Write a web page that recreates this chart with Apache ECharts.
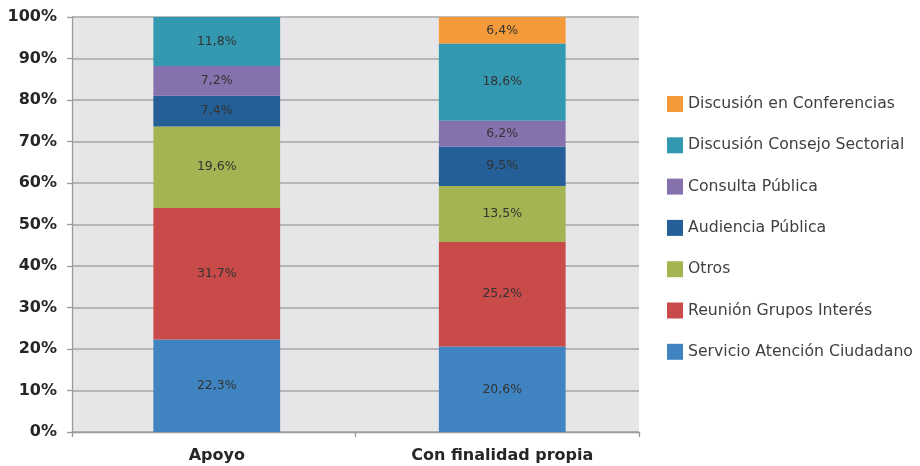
<!DOCTYPE html>
<html>
<head>
<meta charset="utf-8">
<script src="https://cdn.jsdelivr.net/npm/echarts@6/dist/echarts.min.js"></script>
<style>
  html, body { margin: 0; padding: 0; background: #ffffff; }
  #chart { width: 920px; height: 466px; }
</style>
</head>
<body>
<div id="chart"></div>
<script>
// Categories on the x axis
const categories = ['Apoyo', 'Con finalidad propia'];

// Share (%) of each participation mechanism, stacked bottom to top
const servicioAtencion = [22.3, 20.6];
const reunionGrupos = [31.7, 25.2];
const otros = [19.6, 13.5];
const audienciaPublica = [7.4, 9.5];
const consultaPublica = [7.2, 6.2];
const consejoSectorial = [11.8, 18.6];
const conferencias = [null, 6.4];

const yTicks = [0, 10, 20, 30, 40, 50, 60, 70, 80, 90, 100];

const seriesDefs = [
  { name: 'Servicio Atención Ciudadano', data: servicioAtencion, color: '#3f84c0' },
  { name: 'Reunión Grupos Interés', data: reunionGrupos, color: '#c84b4a' },
  { name: 'Otros', data: otros, color: '#a3b552' },
  { name: 'Audiencia Pública', data: audienciaPublica, color: '#245f97' },
  { name: 'Consulta Pública', data: consultaPublica, color: '#8572ad' },
  { name: 'Discusión Consejo Sectorial', data: consejoSectorial, color: '#3399b0' },
  { name: 'Discusión en Conferencias', data: conferencias, color: '#f49a3a' }
];

const fmt = v => v.toFixed(1).replace('.', ',') + '%';
const axisGrey = '#9a9a9a';

const chart = echarts.init(document.getElementById('chart'), null, { renderer: 'canvas' });

chart.setOption({
  animation: false,
  backgroundColor: '#ffffff',
  textStyle: { fontFamily: 'DejaVu Sans' },
  grid: [
    // frame: grey plot area, gridlines and axes
    { left: 72, right: 281, top: 17, bottom: 34, show: true, backgroundColor: '#e6e6e8', borderWidth: 0 },
    // bars and category labels
    { left: 74, right: 275, top: 17, bottom: 34 }
  ],
  legend: {
    orient: 'vertical',
    left: 667,
    top: 96,
    padding: 0,
    itemWidth: 16,
    itemHeight: 16,
    itemGap: 25.3,
    icon: 'rect',
    data: seriesDefs.map(s => s.name).reverse(),
    textStyle: { fontSize: 15.7, color: '#404040', fontFamily: 'DejaVu Sans', padding: [0, 0, 0, 0] }
  },
  xAxis: [
    {
      gridIndex: 0,
      type: 'category',
      data: categories,
      axisLine: { show: true, lineStyle: { color: axisGrey, width: 1.3 } },
      axisTick: { show: true, length: 5, lineStyle: { color: axisGrey, width: 1.3 } },
      axisLabel: { show: false }
    },
    {
      gridIndex: 1,
      type: 'category',
      data: categories,
      axisLine: { show: false },
      axisTick: { show: false },
      axisLabel: {
        margin: 16, fontSize: 16, fontWeight: 'bold', color: '#262626', fontFamily: 'DejaVu Sans'
      }
    }
  ],
  yAxis: [
    {
      gridIndex: 0,
      type: 'value',
      min: yTicks[0],
      max: yTicks[yTicks.length - 1],
      interval: 10,
      axisLine: { show: true, lineStyle: { color: axisGrey, width: 1.3 } },
      axisTick: { show: true, length: 5, lineStyle: { color: axisGrey, width: 1.3 } },
      splitLine: { show: true, lineStyle: { color: '#a6a6a6', width: 1.5 } },
      axisLabel: {
        margin: 15, fontSize: 16, fontWeight: 'bold', color: '#262626', fontFamily: 'DejaVu Sans',
        formatter: v => v + '%'
      }
    },
    {
      gridIndex: 1,
      type: 'value',
      min: yTicks[0],
      max: yTicks[yTicks.length - 1],
      interval: 10,
      show: false
    }
  ],
  series: seriesDefs.map(s => ({
    name: s.name,
    type: 'bar',
    xAxisIndex: 1,
    yAxisIndex: 1,
    stack: 'total',
    barWidth: '44.4%',
    data: s.data,
    itemStyle: { color: s.color },
    label: {
      show: true,
      position: 'inside',
      fontSize: 12.5,
      color: '#333333',
      fontFamily: 'DejaVu Sans',
      formatter: p => (p.value == null ? '' : fmt(p.value))
    }
  }))
});
</script>
</body>
</html>
